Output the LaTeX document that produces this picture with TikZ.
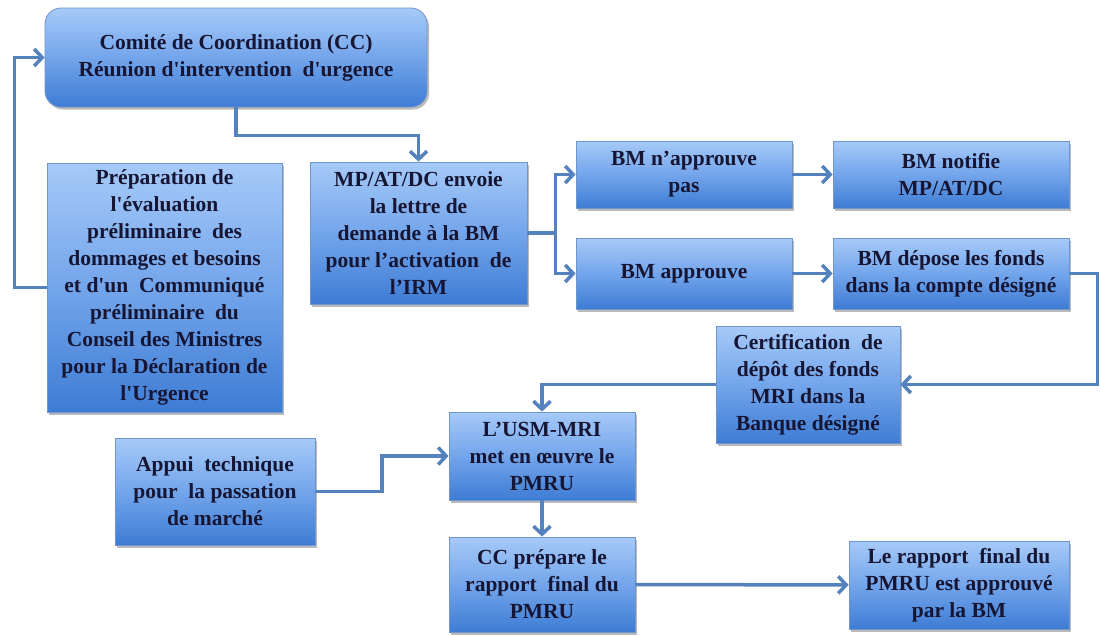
\documentclass[tikz,border=0pt]{standalone}
\usepackage{fontspec}
\newfontfamily\boxfont{Liberation Serif}[BoldFont={Liberation Serif Bold}]
\usetikzlibrary{arrows.meta,shadows,calc}
\definecolor{txt}{RGB}{22,22,52}
\definecolor{linec}{RGB}{84,130,190}
\definecolor{bordc}{RGB}{110,150,205}
\definecolor{topc}{RGB}{166,202,248}
\definecolor{midc}{RGB}{115,165,235}
\definecolor{botc}{RGB}{62,124,212}
\begin{document}
\begin{tikzpicture}[x=1pt,y=-1pt,
  box/.style={draw=bordc, line width=0.8pt, top color=topc, bottom color=botc, middle color=midc,
    inner sep=0pt, align=center, text=txt,
    font=\boxfont\bfseries\fontsize{21.5}{27}\selectfont,
    drop shadow={shadow xshift=2pt,shadow yshift=-2.5pt,opacity=0.45,fill=black!60}},
  arr/.style={draw=linec, line width=3.5pt, -{Straight Barb[length=8pt,width=17pt]}},
  conn/.style={draw=linec, line width=3.5pt}]
\fill[white] (0,0) rectangle (1101,635);
\useasboundingbox (0,0) rectangle (1101,635);

\node[box, rounded corners=16pt, minimum width=382pt, minimum height=99pt] (cc) at (236,57.5)
  {Comité de Coordination (CC)\\Réunion d'intervention\ \ d'urgence};
\node[box, minimum width=235pt, minimum height=249pt] (prep) at (164.5,287.5)
  {Préparation de\\l'évaluation\\préliminaire\ \ des\\dommages et besoins\\et d'un\ \ Communiqué\\préliminaire\ \ du\\Conseil des Ministres\\pour la Déclaration de\\l'Urgence};
\node[box, minimum width=217pt, minimum height=142pt] (mp) at (418.5,233)
  {MP/AT/DC envoie\\la lettre de\\demande à la BM\\pour l’activation\ \ de\\l’IRM};
\node[box, minimum width=216pt, minimum height=67pt] (nap) at (684,174.5)
  {BM n’approuve\\pas};
\node[box, minimum width=236pt, minimum height=67pt] (notif) at (951,174.5)
  {BM notifie\\MP/AT/DC};
\node[box, minimum width=216pt, minimum height=71pt] (ap) at (684,273.5)
  {BM approuve};
\node[box, minimum width=236pt, minimum height=71pt] (dep) at (951,273.5)
  {BM dépose les fonds\\dans la compte désigné};
\node[box, minimum width=184pt, minimum height=117pt] (cert) at (808,384.5)
  {Certification\ \ de\\dépôt des fonds\\MRI dans la\\Banque désigné};
\node[box, minimum width=200pt, minimum height=107pt] (appui) at (215,491.5)
  {Appui\ \ technique\\pour\ \ la passation\\de marché};
\node[box, minimum width=186pt, minimum height=88pt] (usm) at (542,456)
  {L’USM-MRI\\met en œuvre le\\PMRU};
\node[box, minimum width=186pt, minimum height=95pt] (ccp) at (542,584.5)
  {CC prépare le\\rapport\ \ final du\\PMRU};
\node[box, minimum width=220pt, minimum height=88pt] (rap) at (959,585)
  {Le rapport\ \ final du\\PMRU est approuvé\\par la BM};

\draw[arr] (cc.south) -- ++(0,28) -| (mp.north);
\draw[arr] (prep.west) -- ++(-32,0) |- (cc.west);
\coordinate (br) at ($(mp.east)+(28,0)$);
\draw[conn] (mp.east) -- (br);
\draw[arr] (br) |- (nap.west);
\draw[arr] (br) |- (ap.west);
\draw[arr] (nap) -- (notif);
\draw[arr] (ap) -- (dep);
\draw[arr] (dep.east) -- ++(28,0) |- (cert.east);
\draw[arr] (cert.west) -| (usm.north);
\coordinate (aj) at (382,491.5);
\draw[arr] (appui.east) -- (aj) |- (usm.west);
\draw[arr] (usm) -- (ccp);
\draw[arr] (ccp) -- (rap);
\end{tikzpicture}
\end{document}
